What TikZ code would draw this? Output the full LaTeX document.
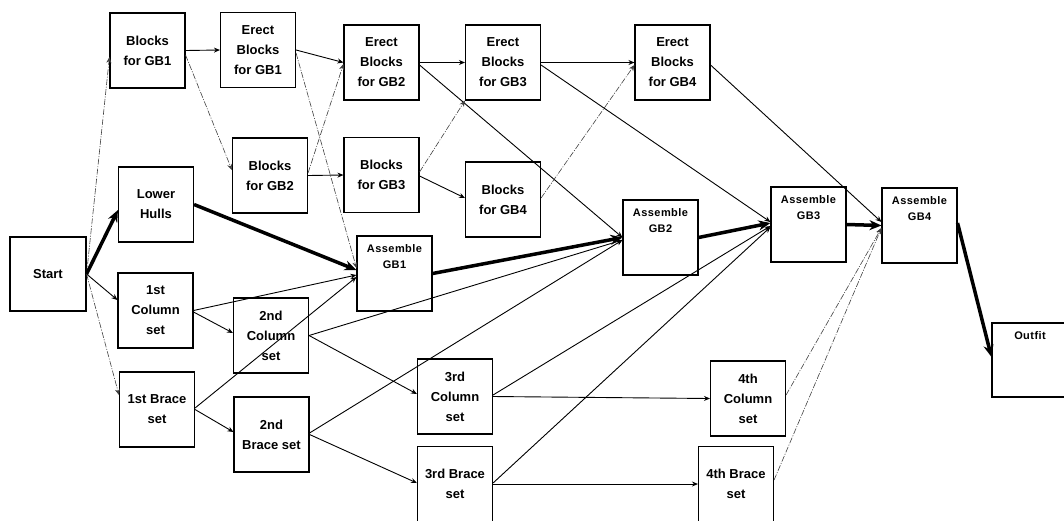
\documentclass[tikz,border=0pt]{standalone}
\usepackage{fontspec}
\setmainfont{Liberation Sans}
\usetikzlibrary{arrows.meta}
\begin{document}
\begin{tikzpicture}[x=1pt,y=-1pt,
  task/.style={draw, line width=1.1pt, minimum width=75pt, minimum height=75pt,
    inner sep=1pt, align=center, font=\fontsize{13}{20}\selectfont\bfseries},
  asm/.style={draw, line width=1.1pt, minimum width=75pt, minimum height=75pt, inner sep=0pt},
  asmlbl/.style={anchor=north, yshift=-6pt, align=center,
    font=\fontsize{11}{16}\selectfont\bfseries\addfontfeatures{LetterSpace=4}},
  link/.style={line width=0.9pt, -{Stealth[length=6pt,width=5pt]}},
  weak/.style={line width=0.6pt, black!75, dash pattern=on 6pt off 1.5pt on 1pt off 1.5pt,
    -{Stealth[length=6pt,width=5pt]}},
  crit/.style={line width=3.5pt, -{Stealth[length=12pt,width=10pt]}},
]
\useasboundingbox (0,0) rectangle (1064,520);

% activities
\node[task, minimum width=76pt, minimum height=74pt] (start) at (48,274) {Start};
\node[task] (bgb1)  at (147.5,50.5) {Blocks\\for GB1};
\node[task] (ebgb1) at (258,50)     {Erect\\Blocks\\for GB1};
\node[task] (bgb2)  at (270,175.5)  {Blocks\\for GB2};
\node[task] (lh)    at (156,204.5)  {Lower\\Hulls};
\node[task] (ebgb2) at (381.5,62.5) {Erect\\Blocks\\for GB2};
\node[task] (ebgb3) at (503,62.5)   {Erect\\Blocks\\for GB3};
\node[task] (bgb3)  at (381.5,175)  {Blocks\\for GB3};
\node[task] (bgb4)  at (503,199.5)  {Blocks\\for GB4};
\node[task] (ebgb4) at (672.5,62.5) {Erect\\Blocks\\for GB4};
\node[task] (col1)  at (155.5,310.5) {1st\\Column\\set};
\node[task] (col2)  at (271,335.5)  {2nd\\Column\\set};
\node[task] (br1)   at (157,409.5)  {1st Brace\\set};
\node[task] (br2)   at (271.5,434.5) {2nd\\Brace set};
\node[task] (col3)  at (455,396.5)  {3rd\\Column\\set};
\node[task] (br3)   at (455,484)    {3rd Brace\\set};
\node[task] (col4)  at (748,398.5)  {4th\\Column\\set};
\node[task] (br4)   at (736,484)    {4th Brace\\set};

% assembly stages, titled at the top
\node[asm, label={[asmlbl]north:{Assemble\\GB1}}] (agb1) at (394.5,273.5) {};
\node[asm, label={[asmlbl]north:{Assemble\\GB2}}] (agb2) at (660.5,237.5) {};
\node[asm, label={[asmlbl]north:{Assemble\\GB3}}] (agb3) at (808.5,224.5) {};
\node[asm, label={[asmlbl]north:{Assemble\\GB4}}] (agb4) at (919.5,225.5) {};
\node[asm, minimum width=76pt, minimum height=74pt,
      label={[asmlbl]north:{Outfit}}] (outfit) at (1030,360) {};

% from start
\draw[weak] (start.east) -- ([yshift=-6.5pt]bgb1.west);
\draw[crit] (start.east) -- ([yshift=-5.5pt]lh.west);
\draw[link] (start.east) -- ([yshift=10.5pt]col1.west);
\draw[weak] (start.east) -- ([yshift=14.5pt]br1.west);

% block fabrication and erection
\draw[link] (bgb1.east) -- (ebgb1.west);
\draw[weak] ([yshift=-4.5pt]bgb1.east) -- ([yshift=5.5pt]bgb2.west);
\draw[link] (ebgb1.east) -- (ebgb2.west);
\draw[weak] ([yshift=-3pt]ebgb1.east) -- ([yshift=5.5pt]agb1.west);
\draw[weak] ([yshift=2.5pt]bgb2.east) -- ([yshift=-1.5pt]ebgb2.west);
\draw[link] (bgb2.east) -- (bgb3.west);
\draw[link] (ebgb2.east) -- (ebgb3.west);
\draw[link] ([yshift=-2.5pt]ebgb2.east) -- (agb2.west);
\draw[weak] ([yshift=3pt]bgb3.east) -- (ebgb3.south west);
\draw[link] ([yshift=-1pt]bgb3.east) -- ([yshift=1.5pt]bgb4.west);
\draw[link] (ebgb3.east) -- (ebgb4.west);
\draw[link] ([yshift=-2.5pt]ebgb3.east) -- ([yshift=2.5pt]agb3.west);
\draw[weak] ([yshift=1.5pt]bgb4.east) -- ([yshift=-2.5pt]ebgb4.west);
\draw[link] ([yshift=-2.5pt]ebgb4.east) -- ([yshift=3.5pt]agb4.west);

% critical path
\draw[crit] (lh.east) -- ([yshift=3.5pt]agb1.west);
\draw[crit] (agb1.east) -- (agb2.west);
\draw[crit] (agb2.east) -- ([yshift=1.5pt]agb3.west);
\draw[crit] (agb3.east) -- (agb4.west);
\draw[crit] ([yshift=2.5pt]agb4.east) -- ([yshift=3pt]outfit.west);

% columns and braces
\draw[link] (col1.east) -- ([yshift=-1.5pt]agb1.west);
\draw[link] ([yshift=-1.5pt]col1.east) -- ([yshift=2.5pt]col2.west);
\draw[link] ([yshift=1.5pt]br1.east) -- ([yshift=-3.5pt]agb1.west);
\draw[link] (br1.east) -- ([yshift=2.5pt]br2.west);
\draw[link] (col2.east) -- ([yshift=-2.5pt]agb2.west);
\draw[link] (col2.east) -- ([yshift=2.5pt]col3.west);
\draw[link] ([yshift=1.5pt]br2.east) -- ([yshift=-2.5pt]agb2.west);
\draw[link] (br2.east) -- ([yshift=1pt]br3.west);
\draw[link] ([yshift=1.5pt]col3.east) -- ([yshift=-1.5pt]agb3.west);
\draw[link] (col3.east) -- (col4.west);
\draw[link] ([yshift=1pt]br3.east) -- ([yshift=-2.5pt]agb3.west);
\draw[link] (br3.east) -- (br4.west);
\draw[weak] ([yshift=3.5pt]col4.east) -- ([yshift=-2.5pt]agb4.west);
\draw[weak] ([yshift=4pt]br4.east) -- ([yshift=-2.5pt]agb4.west);
\end{tikzpicture}
\end{document}
